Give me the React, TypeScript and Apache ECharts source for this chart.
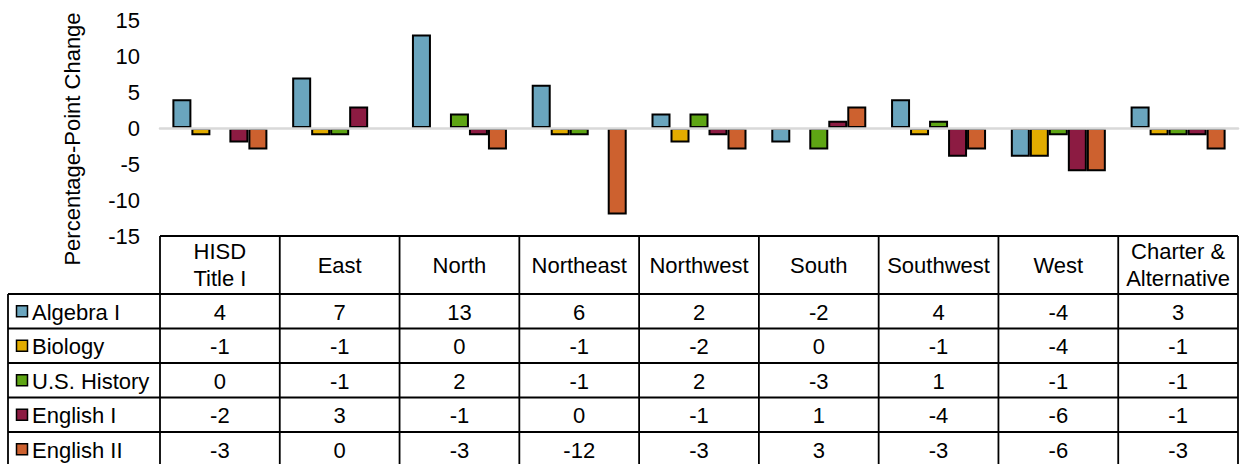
import React, { useEffect, useRef } from "react";
import * as echarts from "echarts";

const categories = ["HISD\nTitle I", "East", "North", "Northeast", "Northwest", "South", "Southwest", "West", "Charter &\nAlternative"];
const seriesNames = ["Algebra I", "Biology", "U.S. History", "English I", "English II"];
const algebra = [4, 7, 13, 6, 2, -2, 4, -4, 3];
const biology = [-1, -1, 0, -1, -2, 0, -1, -4, -1];
const usHistory = [0, -1, 2, -1, 2, -3, 1, -1, -1];
const english1 = [-2, 3, -1, 0, -1, 1, -4, -6, -1];
const english2 = [-3, 0, -3, -12, -3, 3, -3, -6, -3];
const seriesData = [algebra, biology, usHistory, english1, english2];
const colors = ["#6aa5be", "#e2ac00", "#5ea514", "#8c1b42", "#cd612f"];
const yTicks = { min: -15, max: 15, interval: 5 };

const FONT = "'Liberation Sans', Arial, sans-serif";
const FS = 22;
const W = 1240;
const H = 464;
const PLOT_L = 160;
const PLOT_R = 1238;
const PLOT_T = 20;
const PLOT_B = 236;
const HEADER_B = 294;
const ROW_H = 34.5;
const TABLE_L = 8;

export default function App() {
  const ref = useRef<HTMLDivElement>(null);
  useEffect(() => {
    document.body.style.margin = "0";
    const chart = echarts.init(ref.current!, null, { renderer: "svg" });
    const colW = (PLOT_R - PLOT_L) / categories.length;
    const g: any[] = [];
    const lineStyle = { stroke: "#000", lineWidth: 1.8 };
    g.push({ type: "line", shape: { x1: PLOT_L, y1: PLOT_B, x2: PLOT_R, y2: PLOT_B }, style: lineStyle });
    for (let r = 0; r <= seriesNames.length; r++) {
      const y = HEADER_B + r * ROW_H;
      if (y < H) g.push({ type: "line", shape: { x1: TABLE_L, y1: y, x2: PLOT_R, y2: y }, style: lineStyle });
    }
    for (let c = 0; c <= categories.length; c++) {
      const x = PLOT_L + c * colW;
      g.push({ type: "line", shape: { x1: x, y1: PLOT_B, x2: x, y2: H }, style: lineStyle });
    }
    g.push({ type: "line", shape: { x1: TABLE_L, y1: HEADER_B, x2: TABLE_L, y2: H }, style: lineStyle });
    categories.forEach((c, i) => {
      g.push({
        type: "text",
        x: PLOT_L + (i + 0.5) * colW,
        y: (PLOT_B + HEADER_B) / 2,
        style: { text: c, fill: "#000", font: `${FS}px ${FONT}`, align: "center", verticalAlign: "middle", lineHeight: 27 },
      });
    });
    seriesNames.forEach((name, r) => {
      const cy = HEADER_B + (r + 0.5) * ROW_H;
      g.push({ type: "rect", shape: { x: 16.5, y: cy - 5.5, width: 11, height: 11 }, style: { fill: colors[r], stroke: "#000", lineWidth: 1.5 } });
      g.push({ type: "text", x: 32, y: cy + 1, style: { text: name, fill: "#000", font: `${FS}px ${FONT}`, align: "left", verticalAlign: "middle" } });
      seriesData[r].forEach((v, i) => {
        g.push({
          type: "text",
          x: PLOT_L + (i + 0.5) * colW,
          y: cy + 1,
          style: { text: String(v), fill: "#000", font: `${FS}px ${FONT}`, align: "center", verticalAlign: "middle" },
        });
      });
    });
    g.push({
      type: "text",
      x: 72,
      y: 139,
      rotation: Math.PI / 2,
      style: { text: "Percentage-Point Change", fill: "#000", font: `${FS}px ${FONT}`, align: "center", verticalAlign: "middle" },
    });

    chart.setOption({
      animation: false,
      textStyle: { fontFamily: FONT },
      grid: { left: PLOT_L, right: W - PLOT_R, top: PLOT_T, height: PLOT_B - PLOT_T, containLabel: false },
      xAxis: {
        type: "category",
        data: categories,
        z: 5,
        axisLine: { show: true, onZero: true, lineStyle: { color: "#d9d9d9", width: 2.5 } },
        axisTick: { show: false },
        axisLabel: { show: false },
        splitLine: { show: false },
      },
      yAxis: {
        type: "value",
        min: yTicks.min,
        max: yTicks.max,
        interval: yTicks.interval,
        axisLine: { show: false },
        axisTick: { show: false },
        splitLine: { show: false },
        axisLabel: { color: "#000", fontSize: FS, fontFamily: FONT, margin: 20 },
      },
      series: seriesNames.map((n, i) => ({
        name: n,
        type: "bar",
        data: seriesData[i].map((v) => ({
          value: v,
          itemStyle: v === 0 ? { borderWidth: 0 } : undefined,
        })),
        barWidth: 19,
        barGap: "0%",
        itemStyle: { color: colors[i], borderColor: "#000", borderWidth: 2 },
        z: 2,
      })),
      graphic: g,
    });
    return () => chart.dispose();
  }, []);
  return <div ref={ref} style={{ width: W, height: H }} />;
}
